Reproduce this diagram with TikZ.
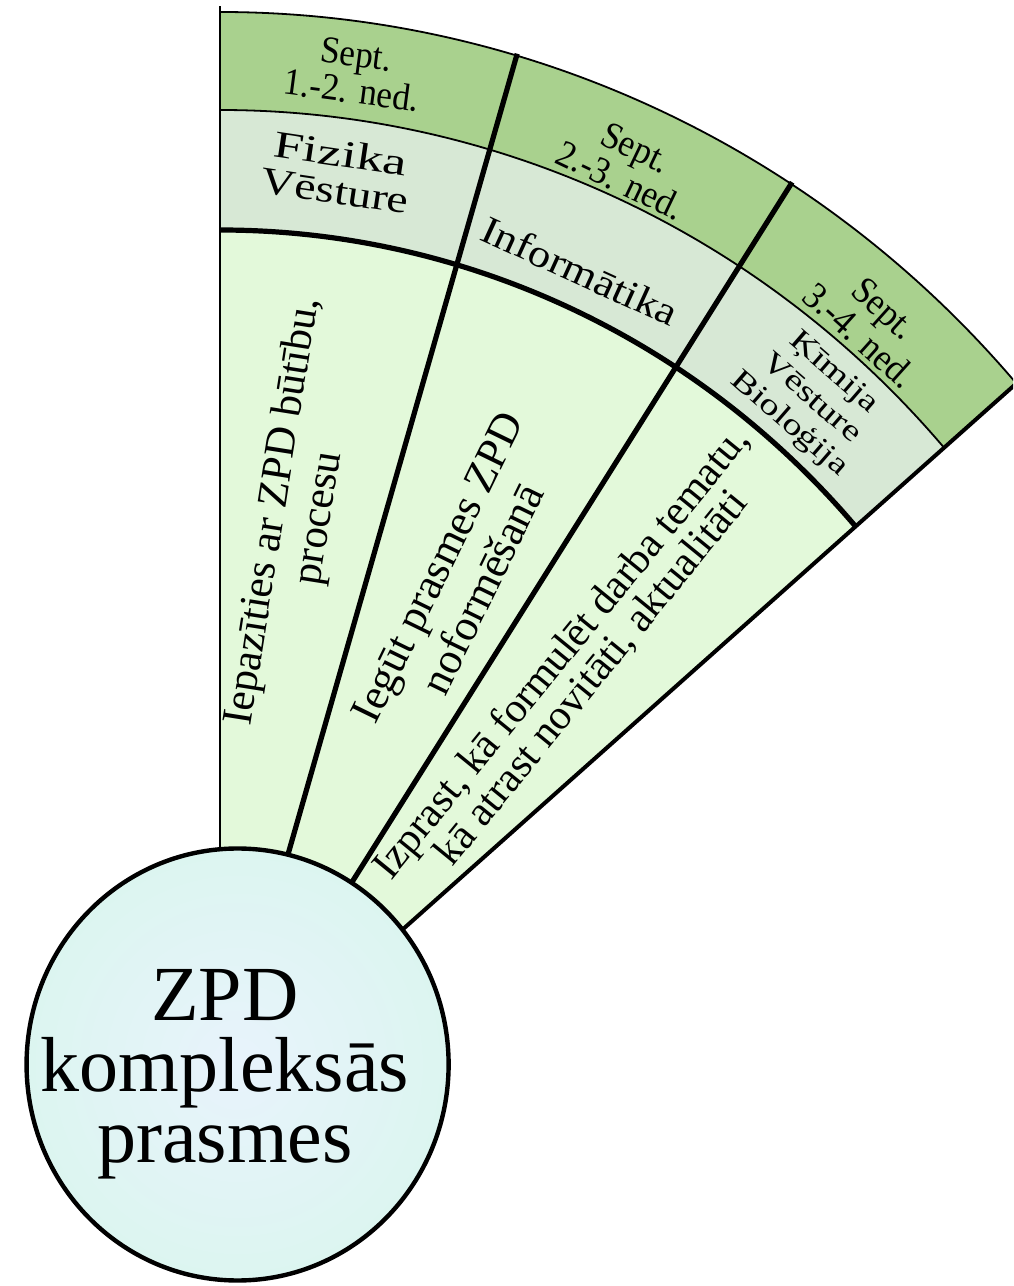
\documentclass[tikz,border=0pt]{standalone}
\usepackage{fontspec}
\usepackage{graphicx}
\setmainfont{Liberation Serif}
\definecolor{datefill}{RGB}{169,209,142}
\definecolor{subjfill}{RGB}{215,232,213}
\definecolor{mainfill}{RGB}{227,249,218}
\definecolor{circout}{RGB}{220,245,240}
\definecolor{circin}{RGB}{232,243,252}
\begin{document}
\begin{tikzpicture}[x=0.5pt, y=0.5pt,
  thinline/.style={line width=0.9pt, line join=round},
  thickline/.style={line width=2.6pt},
  edgeline/.style={line width=2pt},
  datelbl/.style={font=\fontsize{19}{16.5}\selectfont, align=center, inner sep=0pt, xscale=0.93},
  subjlbl/.style={font=\fontsize{19}{18.5}\selectfont, align=center, inner sep=0pt},
  smallsubj/.style={font=\fontsize{15}{17}\selectfont, align=center, inner sep=0pt, xscale=1.3},
  mainlbl/.style={font=\fontsize{21.5}{23}\selectfont, align=center, inner sep=0pt},
  hublbl/.style={font=\fontsize{39}{35.5}\selectfont, align=center, inner sep=0pt}]
\useasboundingbox (-220,-194) rectangle (793,1092);
\clip (-220,-194) rectangle (793,1092);

\begin{scope}[xscale=0.977]
  % fills
  \fill[mainfill] (0,0) -- (90:862) arc[start angle=90, end angle=41, radius=862] -- cycle;
  \fill[subjfill] (90:862) -- (90:982) arc[start angle=90, end angle=41, radius=982]
     -- (41:862) arc[start angle=41, end angle=90, radius=862] -- cycle;
  \fill[datefill] (90:982) -- (90:1080) arc[start angle=90, end angle=41, radius=1080]
     -- (41:982) arc[start angle=41, end angle=90, radius=982] -- cycle;
  % lines
  \draw[thinline] (90:1080) arc[start angle=90, end angle=41, radius=1080];
  \draw[thinline] (90:982) arc[start angle=90, end angle=41, radius=982];
  \draw[thinline] (0,0) -- (90:1086);
  \draw[thickline] (90:862) arc[start angle=90, end angle=41, radius=862];
  \draw[thickline] (0,0) -- (73.67:1082);
  \draw[thickline] (0,0) -- (57.23:1082);
  \draw[edgeline] (0,0) -- (41:1082);
  % hub circle (same slight horizontal compression as the fan)
  \draw[line width=2.2pt, inner color=circin, outer color=circout] (18,27.5) circle[radius=216];
\end{scope}

\node[hublbl] (hubtext) at (5,18) {ZPD\\kompleksās\\prasmes};

% date band
\node[rotate=-7.5, datelbl] (d1) at (134,1019.5) {Sept.\\1.-2. ned.};
\node[rotate=-25.5, datelbl] (d2) at (408,928) {Sept.\\2.-3. ned.};
\node[rotate=-42, datelbl] (d3) at (652,770) {Sept.\\3.-4. ned.};

% subject band
\node[rotate=-8.5, subjlbl] (s1) at (118,920) {\scalebox{1.42}[1]{Fizika}\\\scalebox{1.26}[1]{Vēsture}};
\node[rotate=-24.5, subjlbl, font=\fontsize{19.5}{19}\selectfont, xscale=1.15] (s2) at (360,821) {Informātika};
\node[rotate=-41, smallsubj] (s3) at (591,693) {Ķīmija\\Vēsture\\Bioloģija};

% main area
\node[rotate=81, mainlbl] (m1) at (77,577) {Iepazīties ar ZPD būtību,\\procesu};
\node[rotate=64, mainlbl, font=\fontsize{22}{25}\selectfont] (m2) at (240,514) {Iegūt prasmes ZPD\\noformēšanā};
\node[rotate=50.8, mainlbl, font=\fontsize{21}{19.5}\selectfont] (m3) at (357,426) {Izprast, kā formulēt darba tematu,\\kā atrast novitāti, aktualitāti};
\end{tikzpicture}
\end{document}
